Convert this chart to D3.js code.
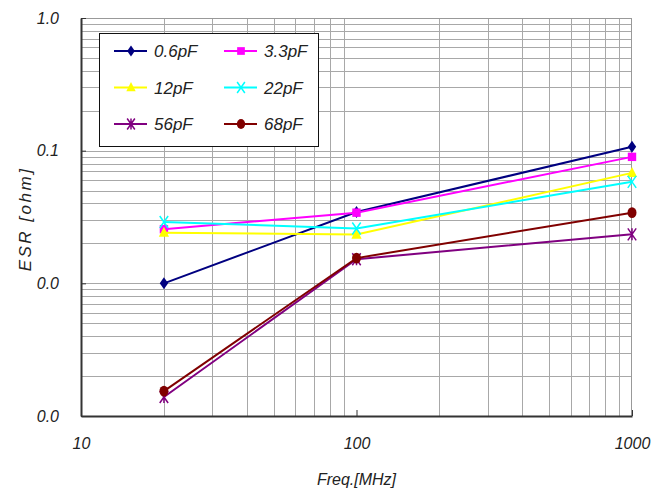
<!DOCTYPE html>
<meta charset="utf-8">
<script src="https://d3js.org/d3.v7.min.js"></script>
<style>
  body { margin: 0; background: #fff; }
  text { font-family: "Liberation Sans", Arial, sans-serif; font-style: italic; fill: #222; }
</style>
<div id="my_dataviz"></div>
<script>
  // data
  var freqs = [20, 100, 1000];
  var names = ["0.6pF", "3.3pF", "12pF", "22pF", "56pF", "68pF"];
  var esr06 = [0.0100, 0.0345, 0.107];
  var esr33 = [0.0256, 0.0341, 0.0898];
  var esr12 = [0.0241, 0.0233, 0.068];
  var esr22 = [0.0290, 0.0259, 0.0582];
  var esr56 = [0.00139, 0.0152, 0.0234];
  var esr68 = [0.00154, 0.0155, 0.0341];
  var xTicks = [10, 100, 1000];
  var yTicks = [0.001, 0.01, 0.1, 1];
  var yTickLabels = ["0.0", "0.0", "0.1", "1.0"];

  var colors = ["#000080", "#ff00ff", "#ffff00", "#00ffff", "#800080", "#800000"];
  var shapes = ["diamond", "square", "triangle", "x", "star", "circle"];
  var allSeries = [esr06, esr33, esr12, esr22, esr56, esr68];

  var margin = { top: 18, right: 35, bottom: 79, left: 81 },
    width = 667 - margin.left - margin.right,
    height = 495 - margin.top - margin.bottom;

  var svg = d3.select("#my_dataviz")
    .append("svg")
    .attr("width", 667)
    .attr("height", 495)
    .append("g")
    .attr("transform", "translate(" + margin.left + "," + margin.top + ")");

  var x = d3.scaleLog().domain([10, 1000]).range([0, width]);
  var y = d3.scaleLog().domain([0.001, 1]).range([height, 0]);

  // grid lines (minor and major)
  var xGrid = [], yGrid = [];
  [10, 100].forEach(function (d) { for (var k = 2; k <= 9; k++) xGrid.push(d * k); });
  [0.001, 0.01, 0.1].forEach(function (d) { for (var k = 1; k <= 9; k++) yGrid.push(d * k); });

  svg.selectAll(".vgrid").data(xGrid).enter().append("line")
    .attr("x1", function (d) { return Math.round(x(d)) + 0.5; })
    .attr("x2", function (d) { return Math.round(x(d)) + 0.5; })
    .attr("y1", 0).attr("y2", height)
    .attr("stroke", "#a8a8a8").attr("stroke-width", 1);

  svg.selectAll(".hgrid").data(yGrid).enter().append("line")
    .attr("x1", 0).attr("x2", width)
    .attr("y1", function (d) { return Math.round(y(d)) + 0.5; })
    .attr("y2", function (d) { return Math.round(y(d)) + 0.5; })
    .attr("stroke", "#a8a8a8").attr("stroke-width", 1);

  // frame
  svg.append("line").attr("x1", 0).attr("x2", width).attr("y1", 0.5).attr("y2", 0.5)
    .attr("stroke", "#999");
  svg.append("line").attr("x1", width - 0.5).attr("x2", width - 0.5).attr("y1", 0).attr("y2", height)
    .attr("stroke", "#999");

  // axes
  var xAxis = d3.axisBottom(x).tickValues(xTicks).tickSizeInner(-6).tickSizeOuter(0)
    .tickFormat(d3.format("d")).tickPadding(22);
  svg.append("g").attr("transform", "translate(0," + height + ")").call(xAxis)
    .call(function (g) {
      g.select(".domain").attr("stroke", "#333").attr("stroke-width", 2);
      g.selectAll(".tick line").attr("stroke", "#333");
      g.selectAll("text").attr("font-size", 16).attr("fill", "#222")
        .attr("font-family", "Liberation Sans, Arial, sans-serif");
    });

  var yAxis = d3.axisLeft(y).tickValues(yTicks).tickSizeInner(-5).tickSizeOuter(0)
    .tickFormat(function (d, i) { return yTickLabels[i]; }).tickPadding(22);
  svg.append("g").call(yAxis)
    .call(function (g) {
      g.select(".domain").attr("stroke", "#333").attr("stroke-width", 2);
      g.selectAll(".tick line").attr("stroke", "#333");
      g.selectAll("text").attr("font-size", 16).attr("fill", "#222")
        .attr("font-family", "Liberation Sans, Arial, sans-serif");
    });

  // axis titles
  svg.append("text")
    .attr("x", x(100)).attr("y", height + 69)
    .attr("text-anchor", "middle").attr("font-size", 16)
    .text("Freq.[MHz]");
  svg.append("text")
    .attr("transform", "translate(" + (-50) + "," + (height / 2 + 2) + ") rotate(-90)")
    .attr("text-anchor", "middle").attr("font-size", 17)
    .attr("letter-spacing", 2.5)
    .text("ESR [ohm]");

  // markers
  function marker(g, shape, color, s) {
    if (shape === "diamond") {
      g.append("path").attr("d", "M0," + (-s) + "L" + (s * 0.7) + ",0L0," + s + "L" + (-s * 0.7) + ",0Z").attr("fill", color);
    } else if (shape === "square") {
      g.append("rect").attr("x", -s * 0.7).attr("y", -s * 0.7).attr("width", s * 1.4).attr("height", s * 1.4).attr("fill", color);
    } else if (shape === "triangle") {
      g.append("path").attr("d", "M0," + (-s) + "L" + (s * 0.85) + "," + (s * 0.7) + "L" + (-s * 0.85) + "," + (s * 0.7) + "Z").attr("fill", color);
    } else if (shape === "x") {
      g.append("path").attr("d", "M" + (-s * 0.7) + "," + (-s) + "L" + (s * 0.7) + "," + s + "M" + (s * 0.7) + "," + (-s) + "L" + (-s * 0.7) + "," + s)
        .attr("stroke", color).attr("stroke-width", 1.5).attr("fill", "none");
    } else if (shape === "star") {
      g.append("path").attr("d", "M" + (-s * 0.7) + "," + (-s) + "L" + (s * 0.7) + "," + s + "M" + (s * 0.7) + "," + (-s) + "L" + (-s * 0.7) + "," + s + "M0," + (-s) + "L0," + s)
        .attr("stroke", color).attr("stroke-width", 1.5).attr("fill", "none");
    } else {
      g.append("ellipse").attr("rx", s * 0.75).attr("ry", s * 0.9).attr("fill", color);
    }
  }

  var line = d3.line()
    .x(function (d, i) { return x(freqs[i]); })
    .y(function (d) { return y(d); });

  allSeries.forEach(function (vals, si) {
    svg.append("path").datum(vals)
      .attr("d", line)
      .attr("fill", "none")
      .attr("stroke", colors[si])
      .attr("stroke-width", 2);
    vals.forEach(function (v, i) {
      var g = svg.append("g").attr("transform", "translate(" + x(freqs[i]) + "," + y(v) + ")");
      marker(g, shapes[si], colors[si], 6);
    });
  });

  // legend
  var legend = svg.append("g").attr("transform", "translate(" + (99 - margin.left) + "," + (33 - margin.top) + ")");
  legend.append("rect").attr("x", 0.5).attr("y", 0.5).attr("width", 219).attr("height", 113)
    .attr("fill", "#fff").attr("stroke", "#111").attr("stroke-width", 1);
  names.forEach(function (n, i) {
    var col = i % 2, row = Math.floor(i / 2);
    var lx = 15 + col * 110, ly = 18 + row * 36.5;
    var g = legend.append("g").attr("transform", "translate(" + lx + "," + ly + ")");
    g.append("line").attr("x1", 0).attr("x2", 33).attr("y1", 0).attr("y2", 0)
      .attr("stroke", colors[i]).attr("stroke-width", 2);
    var m = g.append("g").attr("transform", "translate(17,0)");
    marker(m, shapes[i], colors[i], 5.5);
    g.append("text").attr("x", 40).attr("y", 6).attr("font-size", 17).text(n);
  });
</script>
